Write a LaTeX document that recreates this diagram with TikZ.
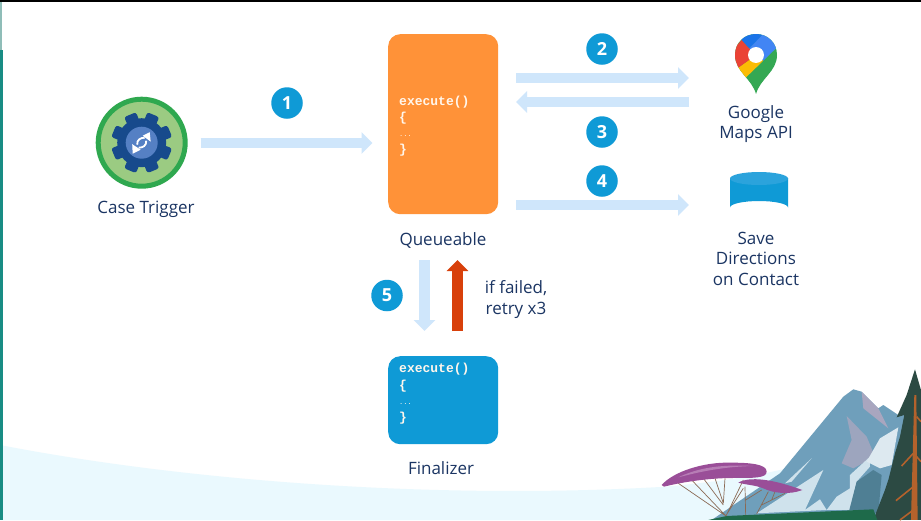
\documentclass[tikz,border=0pt]{standalone}
\usepackage{fontspec}
\setmainfont{Open Sans}
\newfontfamily\codefont{Liberation Mono}
\usetikzlibrary{arrows.meta}
\definecolor{inkc}{HTML}{1B3563}
\definecolor{flowc}{HTML}{CFE6FB}
\definecolor{badgec}{HTML}{0F9AD6}
\definecolor{retryc}{HTML}{D8400B}
\definecolor{queuec}{HTML}{FF9238}
\definecolor{groundc}{HTML}{EAF9FE}
\definecolor{tealc}{HTML}{188C84}
\definecolor{tealp}{HTML}{8FBDB8}
\definecolor{peakc}{HTML}{6F9FBB}
\definecolor{peakd}{HTML}{4F7F94}
\definecolor{peakl}{HTML}{CFE2EC}
\definecolor{peakp}{HTML}{A9A6BF}
\definecolor{foamc}{HTML}{DDE9F0}
\definecolor{pinec}{HTML}{2C4A43}
\definecolor{trunkc}{HTML}{B4622C}
\definecolor{purplec}{HTML}{9A4E98}
\definecolor{purplel}{HTML}{B77DB5}
\definecolor{barkc}{HTML}{8A6A55}
\definecolor{lawnc}{HTML}{1E6A4A}
\definecolor{ringc}{HTML}{2FA84F}
\definecolor{discc}{HTML}{9BCB82}
\definecolor{gearc}{HTML}{174A8C}
\definecolor{hubc}{HTML}{5580C4}
\definecolor{gblue}{HTML}{1A73E8}
\definecolor{gsky}{HTML}{4285F4}
\definecolor{gred}{HTML}{EA4335}
\definecolor{gyel}{HTML}{FBBC04}
\definecolor{ggrn}{HTML}{34A853}
\definecolor{cyltop}{HTML}{2BA3DC}
\definecolor{codetxt}{HTML}{FFF6EC}
\tikzset{
  lbl/.style={text=inkc,font=\fontsize{17}{20.5}\selectfont,align=center,inner sep=0pt},
  flow/.style={draw=flowc,line width=10.5pt,-{Triangle[width=21pt,length=11pt]}},
  retry/.style={draw=retryc,line width=11pt,-{Triangle[width=21pt,length=11pt]}},
  badge/.style={circle,fill=badgec,text=white,minimum size=31.5pt,inner sep=0pt,font=\fontsize{18}{18}\selectfont\bfseries},
  codebox/.style={rounded corners=12pt,inner sep=0pt,anchor=north west},
  code/.style={text=codetxt,font=\codefont\bfseries\fontsize{13}{13}\selectfont,anchor=base west,inner sep=0pt},
  codedots/.style={code,font=\codefont\fontsize{7}{7}\selectfont},
}
\begin{document}
\begin{tikzpicture}[x=1pt,y=-1pt]
\useasboundingbox (0,0) rectangle (921,520);
\fill[white] (0,0) rectangle (921,520);
% ground band and frame
\fill[groundc] (0,445) .. controls (180,480) and (430,500) .. (660,487) .. controls (710,483) and (760,476) .. (800,465) -- (921,465) -- (921,520) -- (0,520) -- cycle;
\fill[tealp] (0,2) rectangle (2,50);
\fill[tealc] (0,50) rectangle (3,520);
\fill[black] (0,0) rectangle (921,1.5);

% scenery, in the coordinates of a 3x crop
\begin{scope}[shift={(640,340)},x=0.3333pt,y=-0.3333pt]
  \fill[peakc] (215,540) -- (420,400) -- (610,170) -- (640,148) -- (665,155) -- (715,205) -- (730,195) -- (775,225) -- (800,225) -- (760,540) -- cycle;
  \fill[peakp] (665,155) -- (715,205) -- (745,265) -- (670,205) -- cycle;
  \fill[peakp!80!peakc] (620,228) -- (680,290) -- (705,350) -- (640,385) -- (605,370) -- (635,300) -- cycle;
  \fill[peakl] (350,520) -- (550,390) -- (495,510) -- (540,478) -- (560,510) -- cycle;
  \fill[peakl] (435,430) -- (515,355) -- (455,425) -- cycle;
  \fill[peakl] (560,510) -- (590,470) -- (630,445) -- (630,405) -- (690,350) -- (690,380) -- (650,425) -- (630,510) -- cycle;
  \fill[foamc] (680,365) -- (720,295) -- (775,262) -- (755,375) -- (720,385) -- cycle;
  \fill[peakd] (628,510) -- (650,425) -- (700,390) -- (725,405) -- (715,520) -- cycle;
  \fill[pinec] (825,88) -- (843,150) -- (843,540) -- (700,540) -- (735,450) -- (745,420) -- (765,340) -- (780,290) -- (793,225) -- (770,232) -- (800,165) -- cycle;
  \fill[trunkc] (823,165) -- (829,165) -- (833,540) -- (813,540) -- cycle;
  \draw[trunkc,line width=1.6pt] (820,340) -- (785,378) (820,440) -- (768,482) (820,510) -- (780,540) (830,230) -- (843,245) (830,350) -- (843,365);
  \fill[lawnc] (205,540) -- (260,528) -- (700,508) -- (712,540) -- cycle;
  \begin{scope}[barkc,line width=0.7pt]
    \draw (258,528) -- (115,430) (258,528) -- (155,420) (250,495) -- (190,415) (250,490) -- (225,415) (250,490) -- (255,415) (258,528) -- (310,420) (262,520) -- (310,445);
    \draw (317,525) -- (315,440) (317,480) -- (365,450) (350,522) -- (385,455) (365,495) -- (435,460) (395,480) -- (405,455);
  \end{scope}
  \fill[purplec] (65,435) .. controls (100,395) and (190,366) .. (270,368) .. controls (330,368) and (380,372) .. (380,395) .. controls (380,415) and (340,414) .. (280,414) .. controls (200,414) and (120,428) .. (72,440) -- cycle;
  \fill[purplel] (115,412) .. controls (170,385) and (240,372) .. (340,378) .. controls (250,380) and (180,395) .. (115,412) -- cycle;
  \fill[purplec] (295,428) .. controls (330,408) and (400,418) .. (487,450) .. controls (450,465) and (400,460) .. (370,445) .. controls (345,435) and (320,435) .. (295,428) -- cycle;
\end{scope}

% code boxes
\node[codebox,fill=queuec,minimum width=110pt,minimum height=180pt] (queue) at (388,34) {};
\node[codebox,fill=badgec,minimum width=110pt,minimum height=88pt] (final) at (388,356) {};
\node[code] (q1) at (399,105) {execute()};
\node[code] (q2) at (399,121) {\{};
\node[codedots] (q3) at (399,136) {...};
\node[code] (q4) at (399,153) {\}};
\node[code] (f1) at (399,372) {execute()};
\node[code] (f2) at (399,389) {\{};
\node[codedots] (f3) at (399,404) {...};
\node[code] (f4) at (399,421) {\}};

% gear icon
\node[circle,draw=ringc,line width=5pt,fill=discc,minimum size=87pt,inner sep=0pt] (trigger) at (141.7,142.7) {};
\begin{scope}[shift={(141.7,142.7)}]
  \foreach \a in {22.5,67.5,...,337.5}{
    \fill[gearc,rounded corners=2.5pt] (\a-18:20) -- (\a-12:31) -- (\a+12:31) -- (\a+18:20) -- cycle;
  }
  \fill[gearc] (0,0) circle (24.5);
  \fill[hubc] (0,0) circle (16);
  \draw[white,line width=1.8pt] (-4.5,2) .. controls (-5,-3) and (-1,-5) .. (3,-5);
  \fill[white] (8,-10.5) -- (9,-1) -- (1,-7) -- cycle;
  \draw[white,line width=1.8pt] (4.5,-2) .. controls (5,3) and (1,5) .. (-3,5);
  \fill[white] (-9,11) -- (-9.5,1.5) -- (-1,7) -- cycle;
\end{scope}

% storage cylinder
\fill[badgec] (730,178) -- (730,207.5) arc[start angle=180,end angle=360,x radius=29,y radius=6.5] -- (788,178) -- cycle;
\fill[cyltop] (759,178.5) ellipse[x radius=29,y radius=6.5];

% map pin
\begin{scope}[shift={(700,20)},x=0.3333pt,y=-0.3333pt]
  \begin{scope}
    \clip (168,222) .. controls (155,175) and (105,155) .. (105,105) .. controls (105,68) and (133,42) .. (168,42) .. controls (203,42) and (231,68) .. (231,105) .. controls (231,155) and (181,175) .. (168,222) -- cycle;
    \fill[ggrn] (100,235) rectangle (240,30);
    \fill[gyel] (112,145) -- (168,105) -- (190,122) -- (135,175) -- (100,170) -- cycle;
    \fill[gred] (125,60) -- (148,85) -- (168,105) -- (112,145) -- (90,100) -- cycle;
    \fill[gblue] (125,60) -- (148,85) -- (192,40) -- (125,30) -- cycle;
    \fill[gsky] (228,85) -- (190,122) -- (168,105) -- (148,85) -- (192,40) -- (240,40) -- cycle;
  \end{scope}
  \fill[white] (168,105) circle (24);
\end{scope}
\coordinate (mapsin) at (689,78);
\coordinate (mapsout) at (689,102);
\coordinate (storein) at (689,205);
\coordinate (qout1) at (516,78);
\coordinate (qin) at (516,102);
\coordinate (qout2) at (516,205);
\coordinate (trigout) at (200.5,143);
\coordinate (qin1) at (372.5,143);
\coordinate (qdown) at (424.5,260);
\coordinate (fin) at (424.5,331);
\coordinate (fout) at (457.5,331);
\coordinate (qup) at (457.5,260);

% connectors
\draw[flow] (trigout) -- (qin1);
\draw[flow] (qout1) -- (mapsin);
\draw[flow] (mapsout) -- (qin);
\draw[flow] (qout2) -- (storein);
\draw[flow] (qdown) -- (fin);
\draw[retry] (fout) -- (qup);

% number badges
\node[badge] (n1) at (287,103) {1};
\node[badge] (n2) at (602,49) {2};
\node[badge] (n3) at (602,132) {3};
\node[badge] (n4) at (602,181) {4};
\node[badge] (n5) at (387,295.5) {5};

% labels
\node[lbl] (l1) at (146,209) {Case Trigger};
\node[lbl] (l2) at (443,240) {Queueable};
\node[lbl] (l3) at (756,124) {Google\\Maps API};
\node[lbl] (l4) at (756,258.5) {Save\\Directions\\on Contact};
\node[lbl] (l5) at (516,299.5) {if failed,\\retry x3};
\node[lbl] (l6) at (441,468) {Finalizer};
\end{tikzpicture}
\end{document}
